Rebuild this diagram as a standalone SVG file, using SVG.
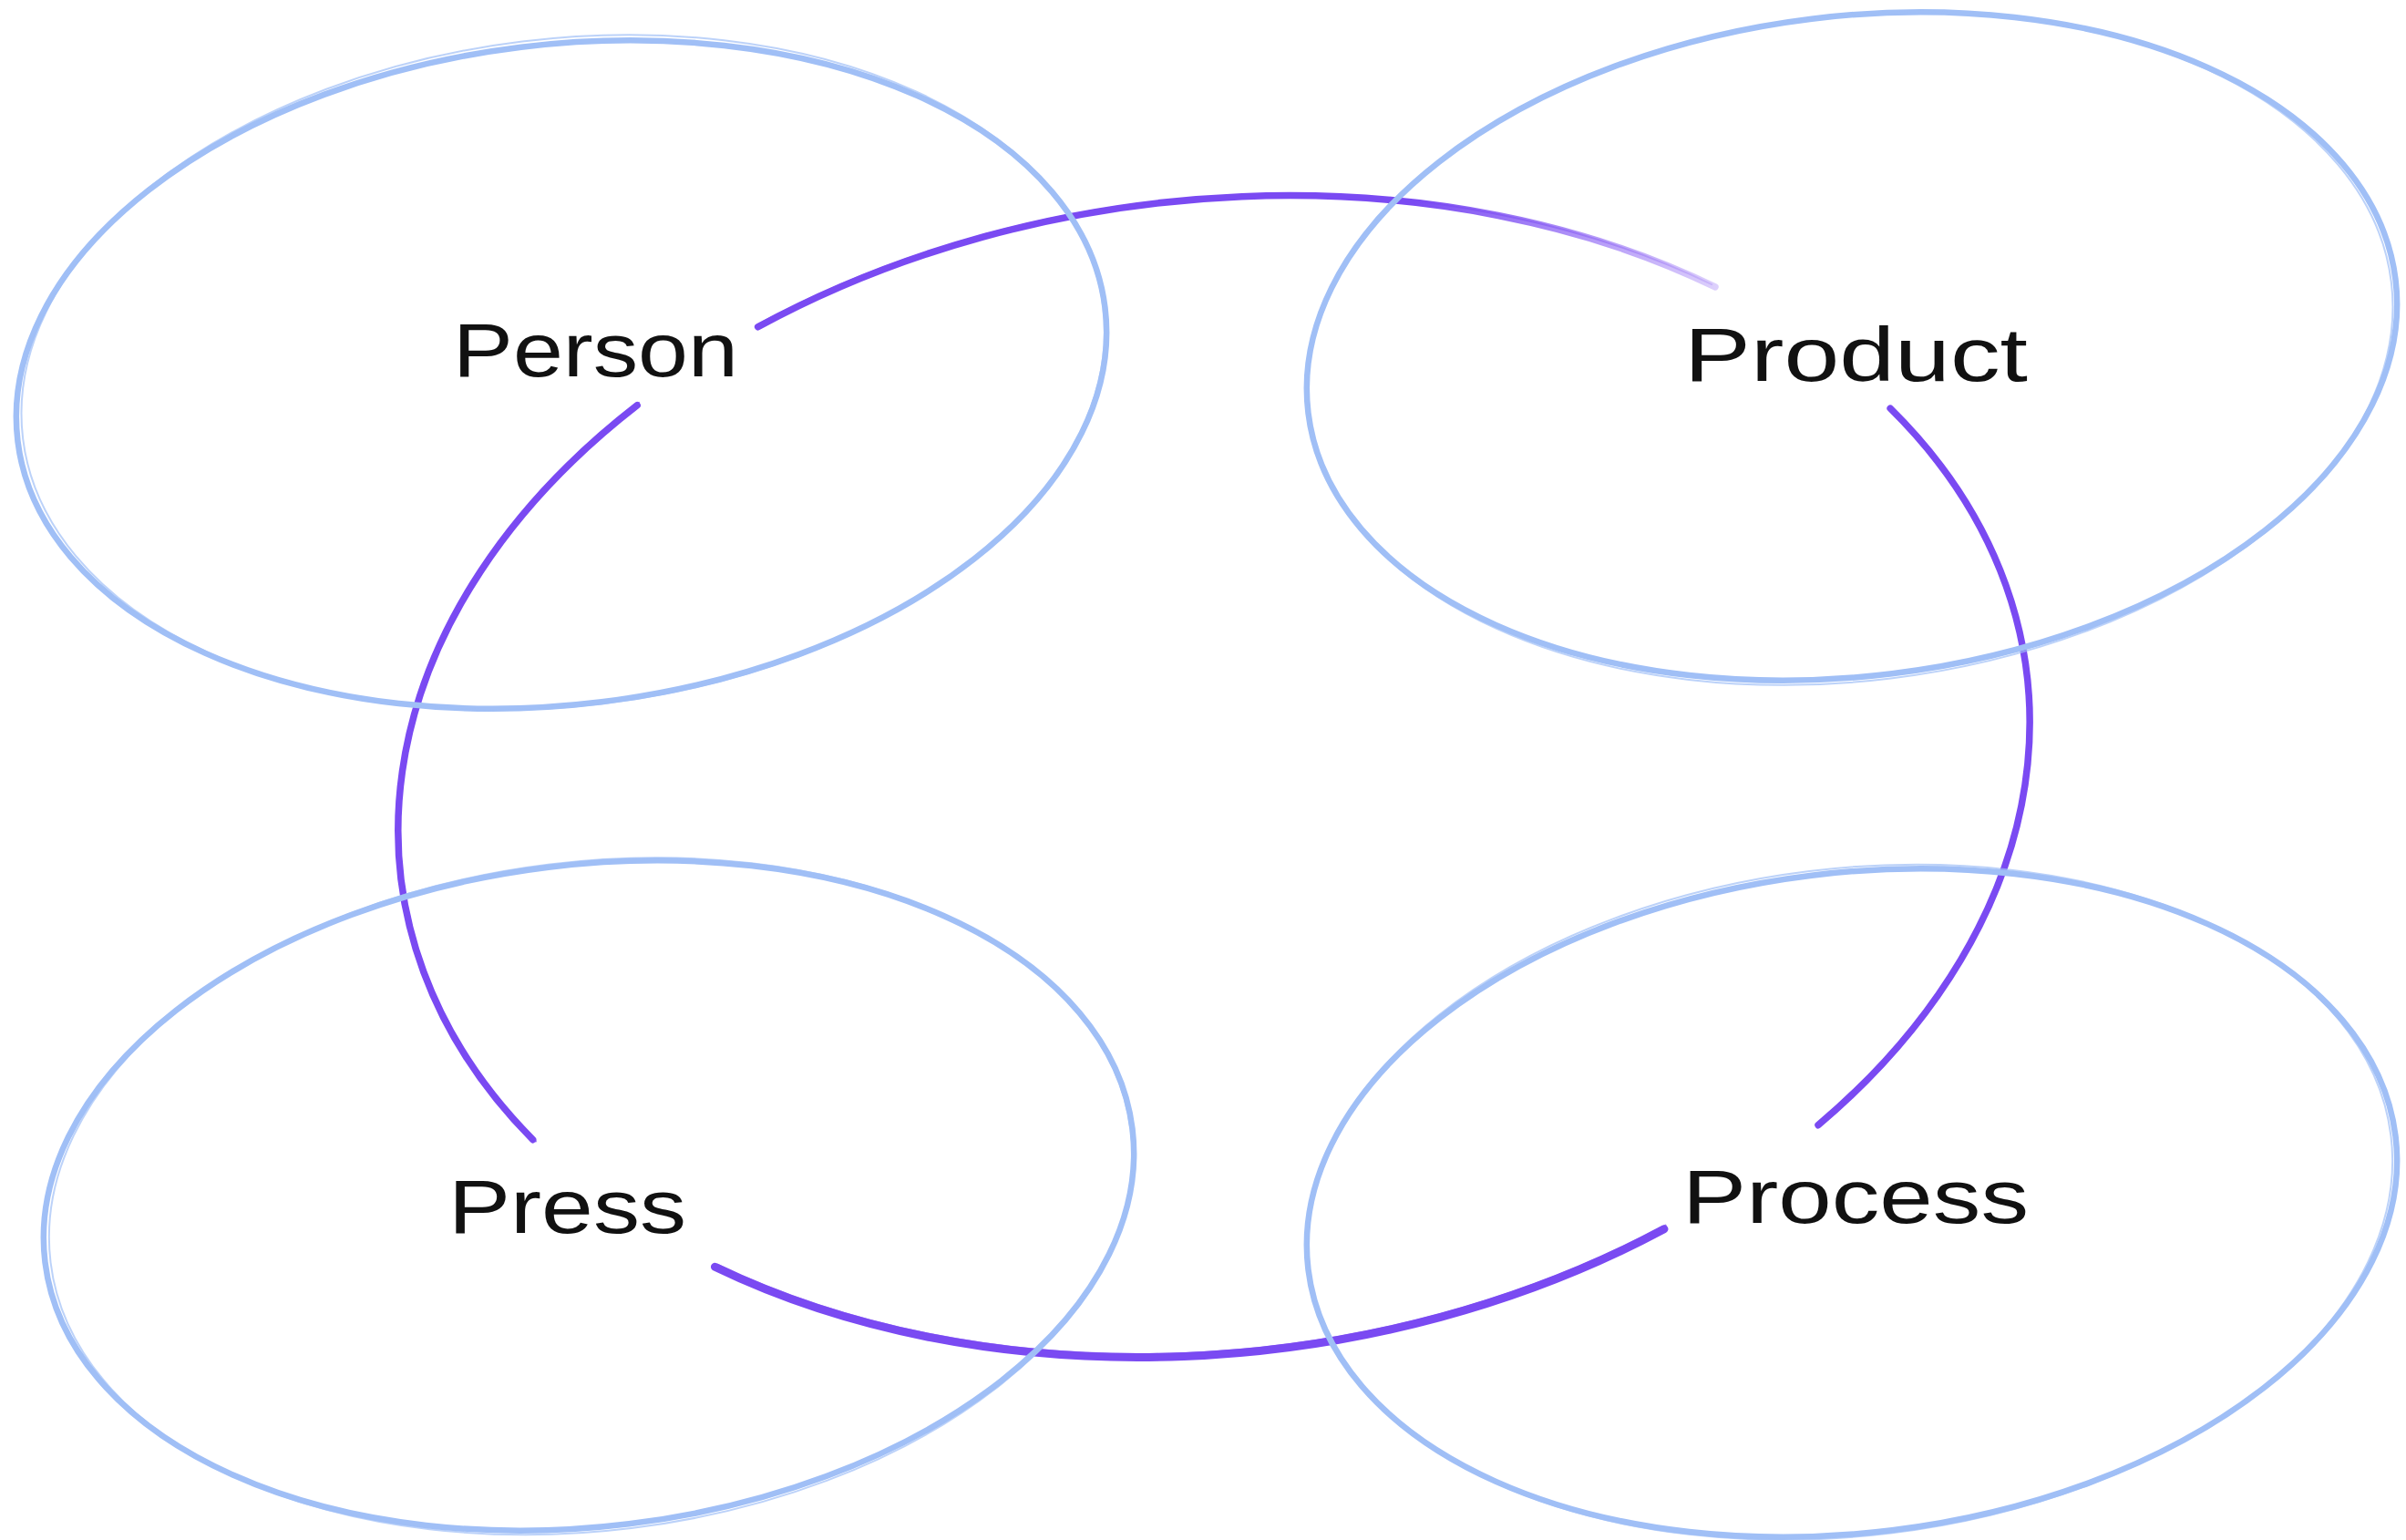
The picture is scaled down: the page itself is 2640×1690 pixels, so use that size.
<svg xmlns="http://www.w3.org/2000/svg" width="2640" height="1690" viewBox="0 0 2640 1690">
  <style>
    .ring { fill: none; stroke: #a0bff6; stroke-width: 6.5; }
    .ring2 { fill: none; stroke: #a0bff6; stroke-width: 2; opacity: 0.7; }
    .arc { fill: none; stroke: #7a4af2; stroke-width: 7.5; stroke-linecap: round; }
    .arc2 { fill: none; stroke: #7a4af2; stroke-width: 2; opacity: 0.7; stroke-linecap: round; }
    .label { font-family: "Liberation Sans", "DejaVu Sans", sans-serif; font-size: 84px; fill: #111111; }
  </style>
  <defs>
    <linearGradient id="fadeTop" gradientUnits="userSpaceOnUse" x1="300" y1="0" x2="620" y2="0">
      <stop offset="0" stop-color="#7a4af2" stop-opacity="1"/>
      <stop offset="1" stop-color="#7a4af2" stop-opacity="0.25"/>
    </linearGradient>
  </defs>
  <rect width="2640" height="1690" fill="#ffffff"/>

  <g id="connectors" transform="translate(1332,852) rotate(-7.5)">
    <path class="arc" style="stroke:url(#fadeTop)" d="M -431.7 -554.3 A 899 632 0 0 1 615.4 -460.7"/>
    <path class="arc2" style="stroke:url(#fadeTop)" d="M -431.7 -557 A 901 634 0 0 1 612 -464"/>
    <path class="arc" d="M 788.5 -303.5 A 899 632 0 0 1 607.4 466.0"/>
    <path class="arc2" d="M 790 -300 A 902 630 0 0 1 610 463"/>
    <path class="arc" style="stroke-width:9" d="M 424.9 557.0 A 899 632 0 0 1 -613.1 462.2"/>
    <path class="arc2" d="M 427 553 A 897 630 0 0 1 -610 460"/>
    <path class="arc" d="M -793.0 297.7 A 899 632 0 0 1 -574.3 -486.3"/>
    <path class="arc2" d="M -790 300 A 896 634 0 0 1 -572 -489"/>
  </g>

  <g id="person">
    <g transform="translate(616,411) rotate(-7)">
      <ellipse class="ring" cx="0" cy="0" rx="601" ry="362"/>
      <ellipse class="ring2" cx="2" cy="-2" rx="597" ry="366"/>
    </g>
    <text class="label" x="497" y="413" textLength="313" lengthAdjust="spacingAndGlyphs">Person</text>
  </g>

  <g id="product">
    <g transform="translate(2032,380) rotate(-7)">
      <ellipse class="ring" cx="0" cy="0" rx="601" ry="362"/>
      <ellipse class="ring2" cx="-2" cy="2" rx="598" ry="365"/>
    </g>
    <text class="label" x="1848" y="418" textLength="377" lengthAdjust="spacingAndGlyphs">Product</text>
  </g>

  <g id="press">
    <g transform="translate(646,1312) rotate(-7)">
      <ellipse class="ring" cx="0" cy="0" rx="601" ry="363"/>
      <ellipse class="ring2" cx="2" cy="1" rx="597" ry="367"/>
    </g>
    <text class="label" x="492" y="1353" textLength="261" lengthAdjust="spacingAndGlyphs">Press</text>
  </g>

  <g id="process">
    <g transform="translate(2032,1320) rotate(-7)">
      <ellipse class="ring" cx="0" cy="0" rx="601" ry="362"/>
      <ellipse class="ring2" cx="-2" cy="-1" rx="598" ry="366"/>
    </g>
    <text class="label" x="1846" y="1342" textLength="380" lengthAdjust="spacingAndGlyphs">Process</text>
  </g>
</svg>
